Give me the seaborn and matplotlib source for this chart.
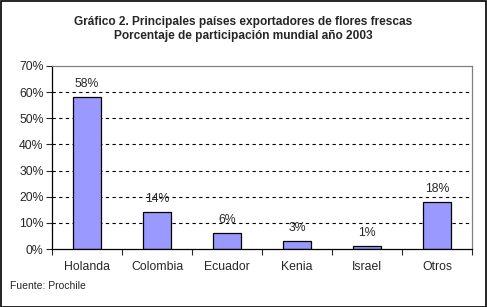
import matplotlib
matplotlib.use("Agg")
import matplotlib.pyplot as plt
import seaborn as sns
import pandas as pd
from matplotlib.ticker import FuncFormatter, MultipleLocator
from matplotlib.patches import Rectangle

categories = ["Holanda", "Colombia", "Ecuador", "Kenia", "Israel", "Otros"]
values = [58, 14, 6, 3, 1, 18]
labels = ["58%", "14%", "6%", "3%", "1%", "18%"]
title = "Gráfico 2. Principales países exportadores de flores frescas\nPorcentaje de participación mundial año 2003"
source = "Fuente: Prochile"

sns.set_style("white")
plt.rcParams['font.family'] = ['Liberation Sans', 'DejaVu Sans']

df = pd.DataFrame({"pais": categories, "valor": values})

W, H = 487, 307
fig = plt.figure(figsize=(W/100, H/100), dpi=100)
ax = fig.add_axes([52/W, 1-249/H, 420/W, 183/H])

sns.barplot(data=df, x="pais", y="valor", color="#9999FF", saturation=1,
            edgecolor="black", linewidth=0.9, width=0.39, ax=ax)

ax.set_ylim(0, 70)
ax.set_xlim(-0.5, 5.5)
ax.yaxis.set_major_locator(MultipleLocator(10))
ax.yaxis.set_major_formatter(FuncFormatter(lambda v, p: f"{int(v)}%"))
for y in range(10, 70, 10):
    ax.axhline(y, color="black", linestyle=(0, (3, 3)), linewidth=0.8, zorder=0)

for i, (v, lab) in enumerate(zip(values, labels)):
    ax.text(i, v + 5, lab, ha="center", va="center", fontsize=8.8)

ax.set_xlabel("")
ax.set_ylabel("")
ax.set_xticks(range(len(categories)))
ax.set_xticklabels(categories, fontsize=8.8)
ax.tick_params(axis="x", length=0, pad=9)
ax.set_xticks([i - 0.5 for i in range(len(categories) + 1)], minor=True)
ax.tick_params(axis="x", which="minor", length=4, direction="out", width=0.8, bottom=True)
ax.tick_params(axis="y", length=4, direction="out", width=0.8, left=True, labelsize=8.8, pad=2)

for s in ["top", "right"]:
    ax.spines[s].set_color("#808080")
    ax.spines[s].set_linewidth(0.9)
for s in ["left", "bottom"]:
    ax.spines[s].set_color("black")
    ax.spines[s].set_linewidth(0.9)

fig.text(0.5, 1 - 29/H, title, ha="center", va="center", fontsize=8.6,
         fontweight="bold", linespacing=1.25)
fig.text(10/W, 1 - 286/H, source, ha="left", va="center", fontsize=7.5)

fig.add_artist(Rectangle((0.5/W, 0.5/H), 1 - 1.5/W, 1 - 1.5/H, transform=fig.transFigure,
                         fill=False, edgecolor="black", linewidth=1.2))

fig.savefig("out.png", dpi=100)
